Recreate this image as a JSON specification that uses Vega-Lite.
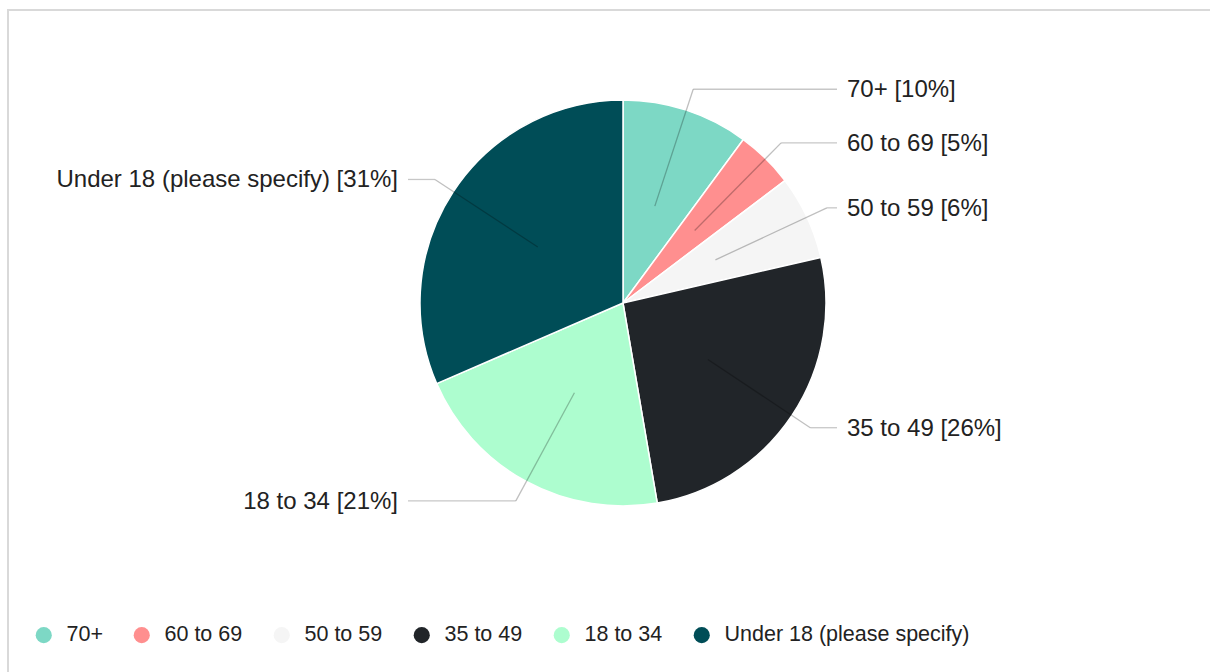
{
  "$schema": "https://vega.github.io/schema/vega-lite/v6.json",
  "width": 1202,
  "height": 662,
  "padding": {"left": 8, "top": 10, "right": 0, "bottom": 0},
  "autosize": {"type": "none"},
  "background": "white",
  "config": {
    "view": {"stroke": "#d9d9d9", "strokeWidth": 2, "strokeDash": [1202, 1864, 662]},
    "font": "Liberation Sans"
  },
  "data": {
    "values": [
      {"age": "70+", "pct": 10.1, "label": "70+ [10%]", "order": 1},
      {"age": "60 to 69", "pct": 4.6, "label": "60 to 69 [5%]", "order": 2},
      {"age": "50 to 59", "pct": 6.7, "label": "50 to 59 [6%]", "order": 3},
      {"age": "35 to 49", "pct": 25.9, "label": "35 to 49 [26%]", "order": 4},
      {"age": "18 to 34", "pct": 21.2, "label": "18 to 34 [21%]", "order": 5},
      {"age": "Under 18 (please specify)", "pct": 31.5, "label": "Under 18 (please specify) [31%]", "order": 6}
    ]
  },
  "transform": [
    {"joinaggregate": [{"op": "sum", "field": "pct", "as": "total"}]},
    {"window": [{"op": "sum", "field": "pct", "as": "cum"}], "sort": [{"field": "order", "order": "ascending"}], "frame": [null, 0]},
    {"calculate": "2*PI*(datum.cum - datum.pct/2)/datum.total", "as": "mid"},
    {"calculate": "102*sin(datum.mid)", "as": "xs"},
    {"calculate": "102*cos(datum.mid)", "as": "ys"},
    {"calculate": "225*sin(datum.mid)", "as": "xe"},
    {"calculate": "225*cos(datum.mid)", "as": "ye"},
    {"calculate": "datum.xe >= 0 ? 214 : -215", "as": "xh"},
    {"calculate": "datum.xe >= 0 ? 224 : -225", "as": "xl"}
  ],
  "layer": [
    {
      "mark": {"type": "arc", "radius": 203, "stroke": "white", "strokeWidth": 1.5},
      "encoding": {
        "theta": {"field": "pct", "type": "quantitative", "stack": true},
        "order": {"field": "order", "type": "quantitative"},
        "x": {"datum": 0, "type": "quantitative", "scale": {"domain": [-615, 587], "nice": false, "zero": false}, "axis": null},
        "y": {"datum": 0, "type": "quantitative", "scale": {"domain": [-369, 293], "nice": false, "zero": false}, "axis": null},
        "color": {
          "field": "age",
          "type": "nominal",
          "scale": {
            "domain": ["70+", "60 to 69", "50 to 59", "35 to 49", "18 to 34", "Under 18 (please specify)"],
            "range": ["#7dd8c5", "#ff8f8f", "#f5f5f5", "#212529", "#adfdcf", "#004d57"]
          },
          "legend": {
            "title": null,
            "orient": "none",
            "legendX": 25,
            "legendY": 614,
            "direction": "horizontal",
            "symbolType": "circle",
            "symbolSize": 260,
            "symbolStrokeWidth": 0,
            "symbolOpacity": 1,
            "labelFontSize": 21.5,
            "labelFont": "Liberation Sans",
            "labelColor": "#222222",
            "labelLimit": 500,
            "labelOffset": 12,
            "columnPadding": 28,
            "labelExpr": "datum.label == '70+' ? '70+   ' : datum.label"
          }
        }
      }
    },
    {
      "mark": {"type": "rule", "color": "#000000", "opacity": 0.25, "strokeWidth": 1.3},
      "encoding": {
        "x": {"field": "xs", "type": "quantitative"},
        "y": {"field": "ys", "type": "quantitative"},
        "x2": {"field": "xe"},
        "y2": {"field": "ye"}
      }
    },
    {
      "mark": {"type": "rule", "color": "#000000", "opacity": 0.22, "strokeWidth": 1.3},
      "encoding": {
        "x": {"field": "xe", "type": "quantitative"},
        "y": {"field": "ye", "type": "quantitative"},
        "x2": {"field": "xh"},
        "y2": {"field": "ye"}
      }
    },
    {
      "transform": [{"filter": "datum.xe >= 0"}],
      "mark": {"type": "text", "align": "left", "baseline": "middle", "dy": 1, "fontSize": 24, "font": "Liberation Sans", "color": "#222222"},
      "encoding": {
        "x": {"field": "xl", "type": "quantitative"},
        "y": {"field": "ye", "type": "quantitative"},
        "text": {"field": "label"}
      }
    },
    {
      "transform": [{"filter": "datum.xe < 0"}],
      "mark": {"type": "text", "align": "right", "baseline": "middle", "dy": 1, "fontSize": 24, "font": "Liberation Sans", "color": "#222222"},
      "encoding": {
        "x": {"field": "xl", "type": "quantitative"},
        "y": {"field": "ye", "type": "quantitative"},
        "text": {"field": "label"}
      }
    }
  ]
}
